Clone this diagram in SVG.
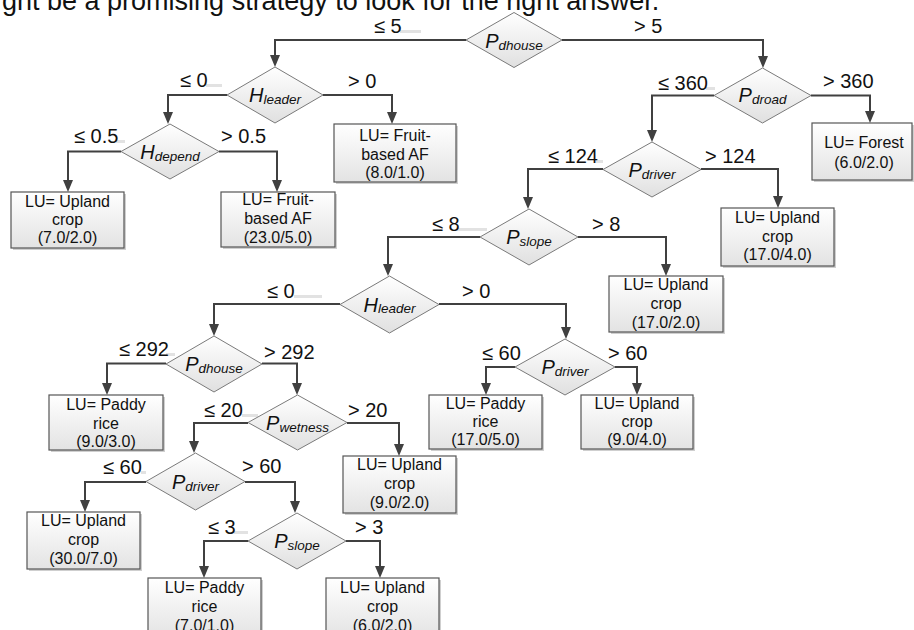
<svg xmlns="http://www.w3.org/2000/svg" width="914" height="630" viewBox="0 0 914 630">
<defs>
<linearGradient id="gBox" x1="0" y1="0" x2="0" y2="1">
<stop offset="0" stop-color="#ffffff"/>
<stop offset="1" stop-color="#e3e3e3"/>
</linearGradient>
<linearGradient id="gDia" x1="0" y1="0" x2="0" y2="1">
<stop offset="0" stop-color="#ffffff"/>
<stop offset="1" stop-color="#e0e0e0"/>
</linearGradient>
<marker id="arr" viewBox="0 0 12 10" refX="2" refY="5" markerWidth="12" markerHeight="10" markerUnits="userSpaceOnUse" orient="auto">
<path d="M0,0 L12,5 L0,10 z" fill="#404040"/>
</marker>
</defs>
<style>
.box{fill:url(#gBox);stroke:#555555;stroke-width:1.2}
.shd{fill:#cfcfcf}
.dia{fill:url(#gDia);stroke:#7a7a7a;stroke-width:1}
.bt{font-family:"Liberation Sans",Arial,sans-serif;font-size:16px;fill:#111;text-anchor:middle}
.dt{font-family:"Liberation Sans",Arial,sans-serif;font-style:italic;fill:#111;text-anchor:middle}
.dt .m{font-size:20px}
.dt .s{font-size:13.5px}
.lb{font-family:"Liberation Sans",Arial,sans-serif;font-size:20px;fill:#111}
.bar{fill:#e2e2e2}
.con path{fill:none;stroke:#404040;stroke-width:2;marker-end:url(#arr)}
.top{font-family:"Liberation Sans",Arial,sans-serif;font-size:27px;fill:#111}
</style>
<rect width="914" height="630" fill="#ffffff"/>
<text class="top" x="2" y="10">ght be a promising strategy to look for the right answer.</text>

<g id="connectors" class="con">
<path d="M466,40 H275 V57"/>
<path d="M562,40 H763 V58"/>
<path d="M227,95 H168 V114"/>
<path d="M323,95 H392 V114"/>
<path d="M714,95.5 H652 V132"/>
<path d="M811,95.5 H870 V113"/>
<path d="M121,151.5 H68 V182"/>
<path d="M219,151.5 H277 V182"/>
<path d="M603,169 H528 V199"/>
<path d="M701,169 H778 V198"/>
<path d="M480,237 H388 V266"/>
<path d="M578,237 H666 V266"/>
<path d="M340,304 H214 V326"/>
<path d="M439,304 H566 V329"/>
<path d="M166,363.5 H107 V385"/>
<path d="M262,363.5 H297 V385"/>
<path d="M515,367 H486 V385"/>
<path d="M615,367 H637 V385"/>
<path d="M248,423 H194 V443"/>
<path d="M347,423 H399 V446"/>
<path d="M146,482 H85 V502"/>
<path d="M245,482 H295 V503"/>
<path d="M248,541 H204 V568"/>
<path d="M346,541 H380 V568"/>
</g>

<g id="branch-labels">
<rect class="bar" x="400" y="30" width="21" height="3"/>
<text class="lb" x="374" y="33">≤ 5</text>
<text class="lb" x="634" y="33">&gt; 5</text>
<rect class="bar" x="206" y="84" width="16" height="3"/>
<text class="lb" x="180" y="87">≤ 0</text>
<text class="lb" x="348" y="88">&gt; 0</text>
<rect class="bar" x="706" y="87" width="9" height="3"/>
<text class="lb" x="658" y="90">≤ 360</text>
<text class="lb" x="823" y="88">&gt; 360</text>
<rect class="bar" x="116" y="140" width="9" height="3"/>
<text class="lb" x="74" y="143">≤ 0.5</text>
<text class="lb" x="221" y="143">&gt; 0.5</text>
<rect class="bar" x="596" y="160" width="7" height="3"/>
<text class="lb" x="548" y="163">≤ 124</text>
<text class="lb" x="705" y="163">&gt; 124</text>
<rect class="bar" x="457" y="228" width="30" height="3"/>
<text class="lb" x="432" y="231">≤ 8</text>
<text class="lb" x="592" y="231">&gt; 8</text>
<rect class="bar" x="294" y="295" width="28" height="3"/>
<text class="lb" x="267" y="298">≤ 0</text>
<text class="lb" x="462" y="298">&gt; 0</text>
<rect class="bar" x="166" y="353" width="9" height="3"/>
<text class="lb" x="119" y="356">≤ 292</text>
<text class="lb" x="264" y="359">&gt; 292</text>
<text class="lb" x="482" y="360">≤ 60</text>
<text class="lb" x="608" y="360">&gt; 60</text>
<rect class="bar" x="242" y="414" width="16" height="3"/>
<text class="lb" x="204" y="417">≤ 20</text>
<text class="lb" x="348" y="417">&gt; 20</text>
<rect class="bar" x="141" y="471" width="5" height="3"/>
<text class="lb" x="103" y="474">≤ 60</text>
<text class="lb" x="242" y="473">&gt; 60</text>
<rect class="bar" x="234" y="531" width="14" height="3"/>
<text class="lb" x="208" y="534">≤ 3</text>
<text class="lb" x="355" y="534">&gt; 3</text>
</g>

<g id="d1">
<polygon class="dia" points="466,40 514,12.5 562,40 514,67.5"/>
<text class="dt" x="514" y="48"><tspan class="m">P</tspan><tspan class="s" dy="1.5">dhouse</tspan></text>
</g>
<g id="d2">
<polygon class="dia" points="227,95 275,67 323,95 275,123"/>
<text class="dt" x="275" y="102"><tspan class="m">H</tspan><tspan class="s" dy="1.5">leader</tspan></text>
</g>
<g id="d3">
<polygon class="dia" points="714,95.5 762.5,68 811,95.5 762.5,123"/>
<text class="dt" x="762.5" y="102"><tspan class="m">P</tspan><tspan class="s" dy="2">droad</tspan></text>
</g>
<g id="d4">
<polygon class="dia" points="121,151.5 170,124 219,151.5 170,179"/>
<text class="dt" x="170" y="159"><tspan class="m">H</tspan><tspan class="s" dy="1.5">depend</tspan></text>
</g>
<g id="d5">
<polygon class="dia" points="603,169.5 652,142 701,169.5 652,197"/>
<text class="dt" x="652" y="176.5"><tspan class="m">P</tspan><tspan class="s" dy="2">driver</tspan></text>
</g>
<g id="d6">
<polygon class="dia" points="480,237 529,209 578,237 529,265"/>
<text class="dt" x="529" y="244"><tspan class="m">P</tspan><tspan class="s" dy="2">slope</tspan></text>
</g>
<g id="d7">
<polygon class="dia" points="340,304.5 389.5,276 439,304.5 389.5,333"/>
<text class="dt" x="389.5" y="311.5"><tspan class="m">H</tspan><tspan class="s" dy="1.5">leader</tspan></text>
</g>
<g id="d8">
<polygon class="dia" points="166,364 214,336 262,364 214,392"/>
<text class="dt" x="214" y="371"><tspan class="m">P</tspan><tspan class="s" dy="2">dhouse</tspan></text>
</g>
<g id="d9">
<polygon class="dia" points="515,367 565,339 615,367 565,395"/>
<text class="dt" x="565" y="374"><tspan class="m">P</tspan><tspan class="s" dy="2">driver</tspan></text>
</g>
<g id="d10">
<polygon class="dia" points="248,422.5 297.5,395 347,422.5 297.5,450"/>
<text class="dt" x="297.5" y="429.5"><tspan class="m">P</tspan><tspan class="s" dy="2">wetness</tspan></text>
</g>
<g id="d11">
<polygon class="dia" points="146,481.5 195.5,453 245,481.5 195.5,510"/>
<text class="dt" x="195.5" y="488.5"><tspan class="m">P</tspan><tspan class="s" dy="2">driver</tspan></text>
</g>
<g id="d12">
<polygon class="dia" points="248,541 297,513 346,541 297,569"/>
<text class="dt" x="297" y="548"><tspan class="m">P</tspan><tspan class="s" dy="2">slope</tspan></text>
</g>

<g id="b1">
<rect class="shd" x="814" y="125" width="100" height="57"/>
<rect class="box" x="812" y="123" width="100" height="57"/>
<text class="bt" x="864" y="148">LU= Forest</text>
<text class="bt" x="864" y="168">(6.0/2.0)</text>
</g>
<g id="b2">
<rect class="shd" x="336" y="126" width="122" height="58"/>
<rect class="box" x="334" y="124" width="122" height="58"/>
<text class="bt" x="395" y="141">LU= Fruit-</text>
<text class="bt" x="395" y="160">based AF</text>
<text class="bt" x="395" y="178">(8.0/1.0)</text>
</g>
<g id="b3">
<rect class="shd" x="13" y="194" width="113" height="56"/>
<rect class="box" x="11" y="192" width="113" height="56"/>
<text class="bt" x="67.5" y="207">LU= Upland</text>
<text class="bt" x="67.5" y="225">crop</text>
<text class="bt" x="67.5" y="243">(7.0/2.0)</text>
</g>
<g id="b4">
<rect class="shd" x="223" y="194" width="114" height="55"/>
<rect class="box" x="221" y="192" width="114" height="55"/>
<text class="bt" x="278" y="205">LU= Fruit-</text>
<text class="bt" x="278" y="224">based AF</text>
<text class="bt" x="278" y="243">(23.0/5.0)</text>
</g>
<g id="b5">
<rect class="shd" x="723" y="210" width="113" height="58"/>
<rect class="box" x="721" y="208" width="113" height="58"/>
<text class="bt" x="777.5" y="223">LU= Upland</text>
<text class="bt" x="777.5" y="242">crop</text>
<text class="bt" x="777.5" y="260">(17.0/4.0)</text>
</g>
<g id="b6">
<rect class="shd" x="611" y="278" width="114" height="56"/>
<rect class="box" x="609" y="276" width="114" height="56"/>
<text class="bt" x="666" y="290">LU= Upland</text>
<text class="bt" x="666" y="309">crop</text>
<text class="bt" x="666" y="328">(17.0/2.0)</text>
</g>
<g id="b7">
<rect class="shd" x="51" y="397" width="114" height="55"/>
<rect class="box" x="49" y="395" width="114" height="55"/>
<text class="bt" x="106" y="410">LU= Paddy</text>
<text class="bt" x="106" y="429">rice</text>
<text class="bt" x="106" y="447">(9.0/3.0)</text>
</g>
<g id="b8">
<rect class="shd" x="431" y="397" width="113" height="54"/>
<rect class="box" x="429" y="395" width="113" height="54"/>
<text class="bt" x="485.5" y="409">LU= Paddy</text>
<text class="bt" x="485.5" y="427">rice</text>
<text class="bt" x="485.5" y="445">(17.0/5.0)</text>
</g>
<g id="b9">
<rect class="shd" x="583" y="397" width="112" height="54"/>
<rect class="box" x="581" y="395" width="112" height="54"/>
<text class="bt" x="637" y="409">LU= Upland</text>
<text class="bt" x="637" y="427">crop</text>
<text class="bt" x="637" y="445">(9.0/4.0)</text>
</g>
<g id="b10">
<rect class="shd" x="345" y="458" width="113" height="57"/>
<rect class="box" x="343" y="456" width="113" height="57"/>
<text class="bt" x="399.5" y="470">LU= Upland</text>
<text class="bt" x="399.5" y="489">crop</text>
<text class="bt" x="399.5" y="508">(9.0/2.0)</text>
</g>
<g id="b11">
<rect class="shd" x="29" y="514" width="113" height="57"/>
<rect class="box" x="27" y="512" width="113" height="57"/>
<text class="bt" x="83.5" y="526">LU= Upland</text>
<text class="bt" x="83.5" y="545">crop</text>
<text class="bt" x="83.5" y="564">(30.0/7.0)</text>
</g>
<g id="b12">
<rect class="shd" x="150" y="580" width="113" height="60"/>
<rect class="box" x="148" y="578" width="113" height="60"/>
<text class="bt" x="204.5" y="593">LU= Paddy</text>
<text class="bt" x="204.5" y="612">rice</text>
<text class="bt" x="204.5" y="631">(7.0/1.0)</text>
</g>
<g id="b13">
<rect class="shd" x="328" y="580" width="113" height="60"/>
<rect class="box" x="326" y="578" width="113" height="60"/>
<text class="bt" x="382.5" y="593">LU= Upland</text>
<text class="bt" x="382.5" y="612">crop</text>
<text class="bt" x="382.5" y="631">(6.0/2.0)</text>
</g>
</svg>
